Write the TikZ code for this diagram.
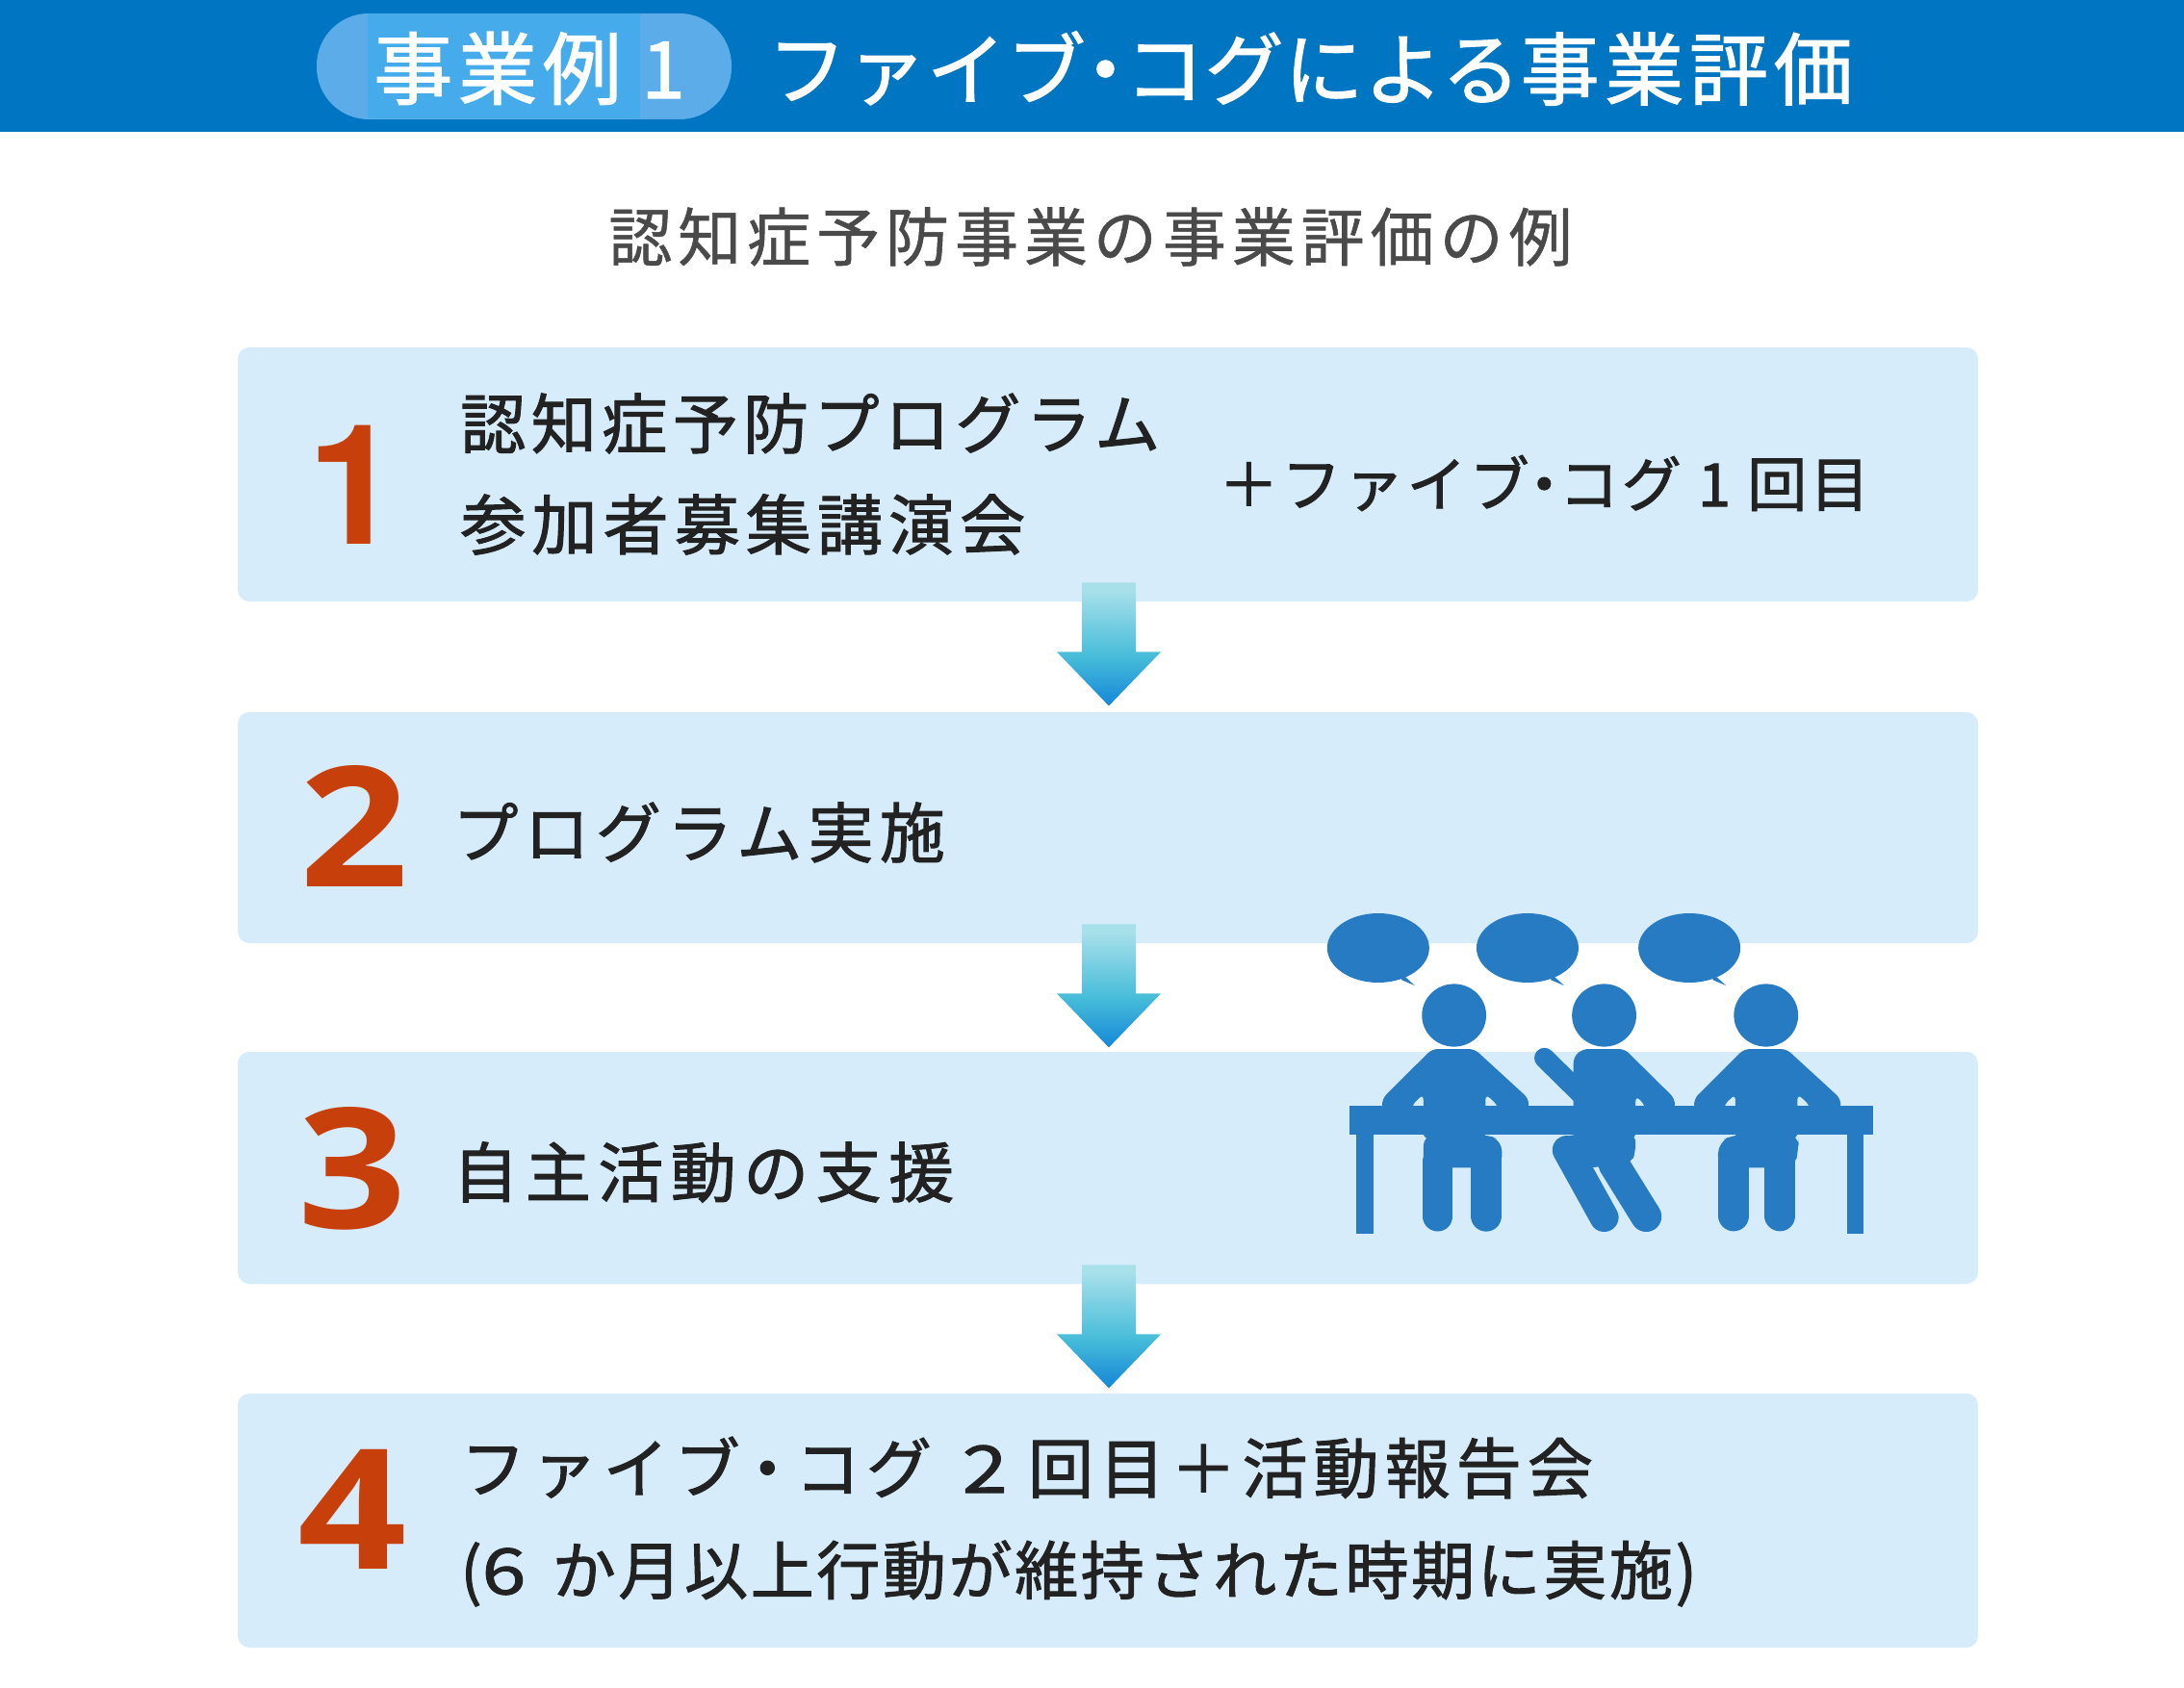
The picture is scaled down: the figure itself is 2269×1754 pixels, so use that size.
\documentclass[tikz,border=0pt]{standalone}
\usepackage{fontspec}
\usetikzlibrary{calc}
\newfontfamily\jpbody[LetterSpace=8,FakeBold=1.5]{Noto Sans CJK JP}
\newfontfamily\jpsub[LetterSpace=9,FakeBold=0.8]{Noto Sans CJK JP}
\newfontfamily\jptitle[LetterSpace=7,FakeBold=1.5]{Noto Sans CJK JP}
\newfontfamily\numfont[FakeStretch=1.14]{Open Sans}
\newfontfamily\onefont{TeX Gyre Heros}
\newcommand{\nakaguro}{\kern-.25em ・\kern-.25em }
\newcommand{\nakaguroB}{\kern-.08em ・\kern-.08em }
\newcommand{\wided}[1]{{\addfontfeature{FakeStretch=1.25}#1}}
\newcommand{\fwplus}{\char"FF0B }
\definecolor{hdr}{HTML}{0075C1}
\definecolor{pillc}{HTML}{5BACE9}
\definecolor{pillin}{HTML}{46ABEB}
\definecolor{boxc}{HTML}{D6ECFB}
\definecolor{icon}{HTML}{267BC3}
\definecolor{numc}{HTML}{C73F0A}
\definecolor{txt}{HTML}{222222}
\definecolor{subc}{HTML}{4A4A4A}
\definecolor{ara}{HTML}{A8E0EA}
\definecolor{arb}{HTML}{46BCD9}
\definecolor{arc}{HTML}{1487D8}
\pgfdeclareverticalshading{arrowsh}{100bp}{color(0bp)=(arc);color(25bp)=(arc);color(45bp)=(arb);color(72bp)=(ara);color(100bp)=(ara)}
\tikzset{
  stepbox/.style={fill=boxc,rounded corners=6pt,inner sep=0pt,minimum width=904pt},
  bodytext/.style={anchor=west,inner sep=0pt,text=txt,font=\jpbody\fontsize{34pt}{34pt}\selectfont},
  widertext/.style={bodytext,font=\jpbody\fontsize{34pt}{34pt}\selectfont\addfontfeature{LetterSpace=#1}},
  smalltext/.style={anchor=west,inner sep=0pt,text=txt,font=\jpbody\fontsize{31pt}{31pt}\selectfont\addfontfeature{LetterSpace=5}},
  noticetext/.style={anchor=west,inner sep=0pt,text=txt,font=\jpbody\fontsize{33pt}{33pt}\selectfont\addfontfeature{LetterSpace=4}},
  titletext/.style={anchor=west,inner sep=0pt,text=white,font=\jptitle\fontsize{41pt}{41pt}\selectfont},
  numtext/.style={anchor=base,inner sep=0pt,text=numc,font=\numfont\bfseries\fontsize{87pt}{87pt}\selectfont},
  onetext/.style={anchor=base,inner sep=0pt,text=numc,font=\onefont\bfseries\fontsize{87pt}{87pt}\selectfont},
  downarrow/.pic={
    \shade[shading=arrowsh]
      (-28,0)--(28,0)--(28,72)--(54,72)--(0,128)--(-54,72)--(-28,72)--cycle;
  },
  iconline/.style={draw=icon,line cap=round},
}
\begin{document}
\begin{tikzpicture}[x=0.5pt,y=-0.5pt]
\useasboundingbox (0,0) rectangle (2269,1754);
\fill[white] (0,0) rectangle (2269,1754);
\fill[hdr] (0,0) rectangle (2269,137);
\fill[pillc,rounded corners=27pt] (329,14) rectangle (760,124);
\fill[pillin] (382,14) rectangle (665,123);
\node[titletext] (pilltext) at (388,71) {事業例\kern.25em 1};
\node[titletext] (title) at (797,71) {{\addfontfeature{LetterSpace=1}ファイブ\nakaguro コグによる}事業評価};
\node[anchor=west,inner sep=0pt,text=subc,font=\jpsub\fontsize{33pt}{33pt}\selectfont] (sub) at (632,246) {認知症予防事業の事業評価の例};

\node[stepbox,minimum height=132pt] (b1) at (1151,493) {};
\node[stepbox,minimum height=120pt] (b2) at (1151,860) {};
\node[stepbox,minimum height=120.5pt] (b3) at (1151,1213.5) {};
\node[stepbox,minimum height=132pt] (b4) at (1151,1580) {};

\pic at ($(b1.south)+(1,-20)$) {downarrow};
\pic at ($(b2.south)+(1,-20)$) {downarrow};
\pic at ($(b3.south)+(1,-20)$) {downarrow};

\node[onetext] (n1) at (368,566) {1};
\node[numtext] (n2) at (368,921) {2};
\node[numtext] (n3) at (366,1276) {3};
\node[numtext] (n4) at (366,1630) {4};

\node[bodytext] (t1a) at (478,440) {認知症予防プログラム};
\node[widertext=9] (t1b) at (478,545) {参加者募集講演会};
\node[smalltext] (t1c) at (1266,502) {\fwplus ファイブ\nakaguro コグ 1 回目};
\node[widertext=9.2] (t2) at (470,865) {プログラム実施};
\node[widertext=11] (t3) at (470,1218) {自主活動の支援};
\node[widertext=9] (t4a) at (478,1525) {ファイブ\nakaguroB コグ\kern.15em{} \wided{2} 回目\fwplus 活動報告会};
\node[noticetext] (t4b) at (478,1635) {(\wided{6}\kern.15em{} か月以上行動が維持された時期に実施)};

\begin{scope}[shift={(1340,920)},x=0.2041pt,y=-0.16667pt]
  % speech bubbles
  \foreach \cx in {225,605,1017}{
    \fill[icon] (\cx,195) ellipse [x radius=26.5pt,y radius=18pt];
    \fill[icon] ($(\cx,195)+(55,75)$) -- ($(\cx,195)+(93,117)$) -- ($(\cx,195)+(60,100)$) -- cycle;
  }
  % heads
  \foreach \cx in {418,800,1212}{
    \fill[icon] (\cx,405) ellipse [x radius=16.7pt,y radius=16.3pt];
  }
  % table
  \fill[icon] (152,686) rectangle (1484,776);
  \fill[icon] (170,776) rectangle (213,1086);
  \fill[icon] (1418,776) rectangle (1460,1086);
  % person 1 and 3 upper bodies
  \foreach \dx in {0,794}{
    \begin{scope}[shift={(\dx,0)}]
    \fill[icon,rounded corners=3pt] (362,510)--(470,510)--(608,665)--(608,700)--(530,700)--(530,686)--(498,650)--(498,790)--(340,790)--(340,650)--(310,686)--(310,700)--(235,700)--(235,665)--cycle;
    \end{scope}
  }
  % person 2 upper body
  \fill[icon,rounded corners=3pt] (745,510)--(852,510)--(980,665)--(980,700)--(905,700)--(905,686)--(880,655)--(880,790)--(722,790)--(722,535)--cycle;
  \draw[iconline,line width=10.5pt] (648,538) -- (745,655);
  % person 1 legs
  \fill[icon,rounded corners=6pt] (340,776)--(498,776)--(540,795)--(540,880)--(340,880)--cycle;
  \draw[iconline,line width=15.5pt] (377,860) -- (377,1032);
  \draw[iconline,line width=16.3pt] (500,830) -- (500,1030);
  % person 2 legs
  \fill[icon,rounded corners=4pt] (722,776)--(880,776)--(880,830)--(870,865)--(775,880)--(705,870)--(668,830)--(690,788)--cycle;
  \draw[iconline,line width=15pt] (705,825) -- (800,1035);
  \draw[iconline,line width=16pt] (825,870) -- (907,1032);
  % person 3 legs
  \fill[icon,rounded corners=6pt] (1132,776)--(1295,776)--(1295,820)--(1285,880)--(1090,880)--(1090,800)--cycle;
  \draw[iconline,line width=16pt] (1130,860) -- (1130,1030);
  \draw[iconline,line width=16pt] (1248,860) -- (1248,1030);
\end{scope}
\end{tikzpicture}
\end{document}
